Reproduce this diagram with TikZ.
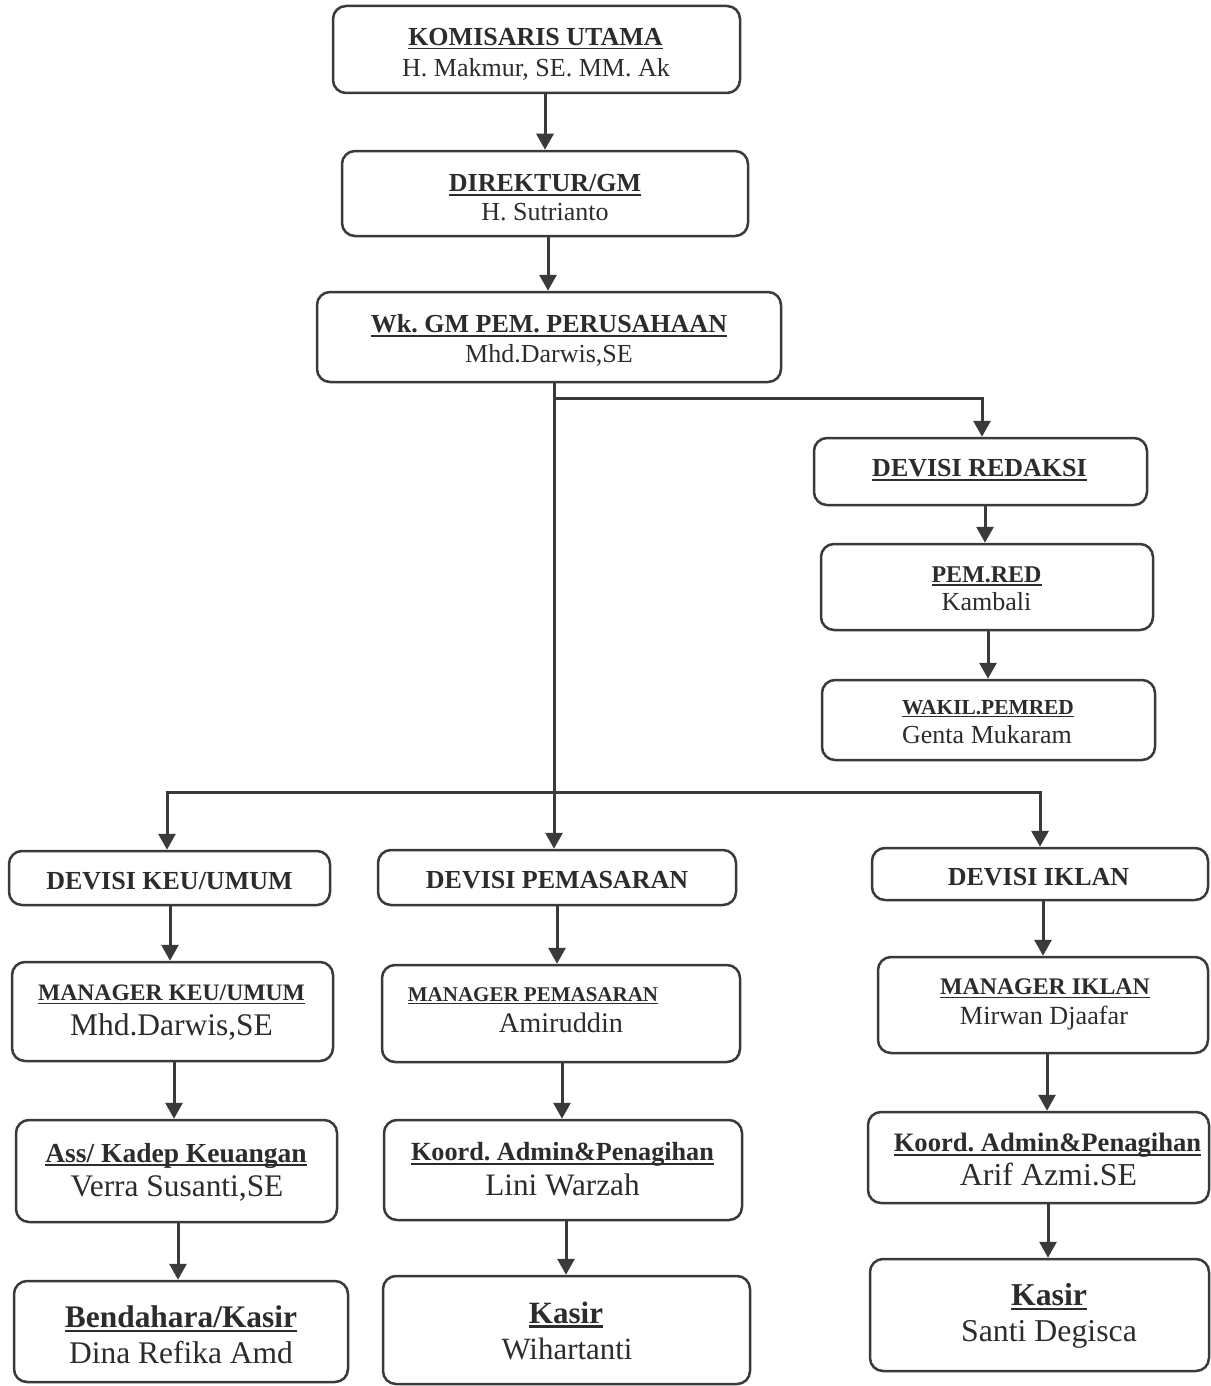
\documentclass[tikz,border=0pt]{standalone}
\usepackage{fontspec}
\setmainfont{Liberation Serif}
\usetikzlibrary{arrows.meta}
\definecolor{ln}{HTML}{3A3A3A}
\definecolor{txt}{HTML}{2C2C2C}
\newsavebox\ulbox
\newcommand\ulw[1]{\leavevmode\sbox\ulbox{#1}\rlap{\rule[-0.15em]{\wd\ulbox}{0.075em}}\usebox\ulbox}
\newcommand\fs[1]{\fontsize{#1}{#1}\selectfont}
\frenchspacing
\tikzset{
  box/.style={draw=ln, line width=2.5pt, rounded corners=13pt, inner sep=0pt, fill=white},
  tx/.style={anchor=base, inner sep=0pt, text=txt},
  arr/.style={draw=ln, line width=3pt, -{Triangle[length=16pt,width=17pt]}},
  ln/.style={draw=ln, line width=3pt},
}
\begin{document}
\frenchspacing
\begin{tikzpicture}[x=1pt, y=-1pt]
\useasboundingbox[fill=white] (0,0) rectangle (1210,1386);

% boxes
\node[box, minimum width=407, minimum height=87]  (kom)   at (536.5,49.5)  {};
\node[box, minimum width=406, minimum height=85]  (dir)   at (545,193.5)   {};
\node[box, minimum width=464, minimum height=90]  (wk)    at (549,337)     {};
\node[box, minimum width=333, minimum height=67]  (red)   at (980.5,471.5) {};
\node[box, minimum width=332, minimum height=86]  (pem)   at (987,587)     {};
\node[box, minimum width=333, minimum height=80]  (wak)   at (988.5,720)   {};
\node[box, minimum width=321, minimum height=54]  (dkeu)  at (169.5,878)   {};
\node[box, minimum width=358, minimum height=55]  (dpem)  at (557,877.5)   {};
\node[box, minimum width=336, minimum height=52]  (dikl)  at (1040,874)    {};
\node[box, minimum width=321, minimum height=99]  (mkeu)  at (172.5,1011.5){};
\node[box, minimum width=358, minimum height=97]  (mpem)  at (561,1013.5)  {};
\node[box, minimum width=330, minimum height=96]  (mikl)  at (1043,1005)   {};
\node[box, minimum width=321, minimum height=102] (ass)   at (176.5,1171)  {};
\node[box, minimum width=358, minimum height=100] (klini) at (563,1170)    {};
\node[box, minimum width=341, minimum height=91]  (karif) at (1038.5,1157.5){};
\node[box, minimum width=334, minimum height=101] (bend)  at (181,1331.5)  {};
\node[box, minimum width=367, minimum height=108] (kasw)  at (566.5,1330)  {};
\node[box, minimum width=339, minimum height=112] (kass)  at (1039.5,1315) {};

% texts
\node[tx, font=\fs{26}\bfseries] (komT) at (535.5,45.6) {\ulw{KOMISARIS UTAMA}};
\node[tx, font=\fs{26}] (komN) at (536,76.6) {H. Makmur, SE. MM. Ak};
\node[tx, font=\fs{26}\bfseries] (dirT) at (545,191.6) {\ulw{DIREKTUR/GM}};
\node[tx, font=\fs{26}] (dirN) at (545,220.6) {H. Sutrianto};
\node[tx, font=\fs{26}\bfseries] (wkT) at (549,332.6) {\ulw{Wk. GM PEM. PERUSAHAAN}};
\node[tx, font=\fs{26}] (wkN) at (549,362.6) {Mhd.Darwis,SE};
\node[tx, font=\fs{26}\bfseries] (redT) at (979.5,476.6) {\ulw{DEVISI REDAKSI}};
\node[tx, font=\fs{24}\bfseries] (pemT) at (986.5,582) {\ulw{PEM.RED}};
\node[tx, font=\fs{26}] (pemN) at (986.5,610.6) {Kambali};
\node[tx, font=\fs{21.4}\bfseries] (wakT) at (988,714) {\ulw{WAKIL.PEMRED}};
\node[tx, font=\fs{26}] (wakN) at (987,743.6) {Genta Mukaram};
\node[tx, font=\fs{26}\bfseries] (dkeuT) at (169.5,889.6) {DEVISI KEU/UMUM};
\node[tx, font=\fs{26}\bfseries] (dpemT) at (557,888.6) {DEVISI PEMASARAN};
\node[tx, font=\fs{26}\bfseries] (diklT) at (1038.5,885.6) {DEVISI IKLAN};
\node[tx, font=\fs{23.6}\bfseries] (mkeuT) at (171.5,1000.8) {\ulw{MANAGER KEU/UMUM}};
\node[tx, font=\fs{31.5}] (mkeuN) at (171.5,1035.4) {Mhd.Darwis,SE};
\node[tx, font=\fs{21}\bfseries] (mpemT) at (533,1001) {\ulw{MANAGER PEMASARAN}};
\node[tx, font=\fs{28.3}] (mpemN) at (561,1032.3) {Amiruddin};
\node[tx, font=\fs{23.8}\bfseries] (miklT) at (1045,994.9) {\ulw{MANAGER IKLAN}};
\node[tx, font=\fs{26.2}] (miklN) at (1044,1024.6) {Mirwan Djaafar};
\node[tx, font=\fs{27.5}\bfseries] (assT) at (176,1162) {\ulw{Ass/ Kadep Keuangan}};
\node[tx, font=\fs{31.4}] (assN) at (177,1196.4) {Verra Susanti,SE};
\node[tx, font=\fs{26.2}\bfseries] (kliniT) at (562.5,1160.6) {\ulw{Koord. Admin\&Penagihan}};
\node[tx, font=\fs{31.2}] (kliniN) at (562.5,1195.3) {Lini Warzah};
\node[tx, font=\fs{26.6}\bfseries] (karifT) at (1047.5,1151.8) {\ulw{Koord. Admin\&Penagihan}};
\node[tx, font=\fs{31.9}] (karifN) at (1048.5,1185.5) {Arif Azmi.SE};
\node[tx, font=\fs{31.4}\bfseries] (bendT) at (181,1327.4) {\ulw{Bendahara/Kasir}};
\node[tx, font=\fs{31.5}] (bendN) at (181,1363.4) {Dina Refika Amd};
\node[tx, font=\fs{31}\bfseries] (kaswT) at (566,1323) {\ulw{Kasir}};
\node[tx, font=\fs{30.9}] (kaswN) at (567,1359) {Wihartanti};
\node[tx, font=\fs{31.8}\bfseries] (kassT) at (1049,1305.5) {\ulw{Kasir}};
\node[tx, font=\fs{31.8}] (kassN) at (1049,1341.5) {Santi Degisca};

% connectors
\draw[arr] ([xshift=8.5]kom.south) coordinate (a1) -- (a1 |- dir.north);
\draw[arr] ([xshift=3]dir.south) coordinate (a2) -- (a2 |- wk.north);
\draw[ln] ([xshift=5]wk.south) coordinate (wkb) -- (wkb |- 0,398) coordinate (j1);
\draw[arr] (j1) -| ([xshift=1.5]red.north);
\draw[arr] (j1) -- (wkb |- dpem.north);
\coordinate (j2) at (wkb |- 0,792);
\draw[arr] (j2) -| ([xshift=-2.5]dkeu.north);
\draw[arr] (j2) -| (dikl.north);
\draw[arr] ([xshift=4.5]red.south) coordinate (a3) -- (a3 |- pem.north);
\draw[arr] ([xshift=1]pem.south) coordinate (a4) -- (a4 |- wak.north);
\draw[arr] ([xshift=0.5]dkeu.south) coordinate (a5) -- (a5 |- mkeu.north);
\draw[arr] ([xshift=1.5]mkeu.south) coordinate (a6) -- (a6 |- ass.north);
\draw[arr] ([xshift=1.5]ass.south) coordinate (a7) -- (a7 |- bend.north);
\draw[arr] (dpem.south) coordinate (a8) -- (a8 |- mpem.north);
\draw[arr] ([xshift=1]mpem.south) coordinate (a9) -- (a9 |- klini.north);
\draw[arr] ([xshift=3]klini.south) coordinate (a10) -- (a10 |- kasw.north);
\draw[arr] ([xshift=3]dikl.south) coordinate (a11) -- (a11 |- mikl.north);
\draw[arr] ([xshift=4]mikl.south) coordinate (a12) -- (a12 |- karif.north);
\draw[arr] ([xshift=9.5]karif.south) coordinate (a13) -- (a13 |- kass.north);
\end{tikzpicture}
\end{document}
